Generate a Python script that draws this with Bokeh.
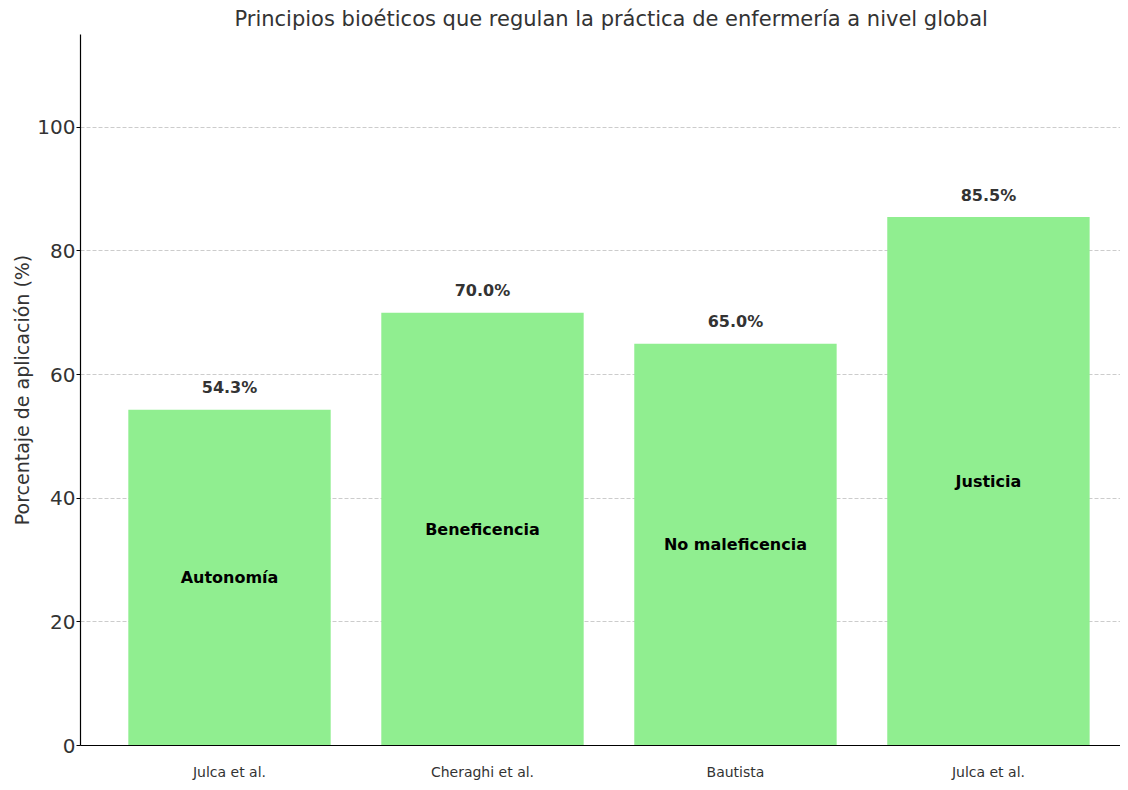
from bokeh.plotting import figure
from bokeh.models import FixedTicker, Range1d, ColumnDataSource
from bokeh.core.properties import value
from bokeh.embed import file_html
from bokeh.resources import INLINE

authors = ["Julca et al.", "Cheraghi et al.", "Bautista", "Julca et al."]
principles = ["Autonomía", "Beneficencia", "No maleficencia", "Justicia"]
percentages = [54.3, 70.0, 65.0, 85.5]
y_ticks = [0, 20, 40, 60, 80, 100]

xs = list(range(len(authors)))
src = ColumnDataSource(dict(
    x=xs,
    top=percentages,
    mid=[v / 2 for v in percentages],
    lab_y=[v + 2 for v in percentages],
    val=[f"{v:.1f}%" for v in percentages],
    name=principles,
))

FONT = "DejaVu Sans"

p = figure(width=1120, height=782, output_backend="svg", toolbar_location=None,
           x_range=Range1d(-0.589, 3.522), y_range=Range1d(0, 115),
           title="Principios bioéticos que regulan la práctica de enfermería a nivel global",
           min_border_left=80, min_border_right=0, min_border_top=0, min_border_bottom=0)

p.title.align = "left"
p.title.offset = 154
p.title.text_font = FONT
p.title.text_font_size = "21px"
p.title.text_font_style = "normal"
p.title.text_color = "#333333"
p.title.standoff = 8

p.outline_line_color = None
p.background_fill_color = "white"

p.vbar(x="x", top="top", width=0.8, source=src, fill_color="#90EE90", line_color=None)

p.text(x="x", y="lab_y", text="val", source=src, text_align="center", text_baseline="bottom",
       text_font=value(FONT), text_font_size="16px", text_font_style="bold", text_color="#333333")
p.text(x="x", y="mid", text="name", source=src, text_align="center", text_baseline="middle",
       text_font=value(FONT), text_font_size="16px", text_font_style="bold", text_color="black")

# y axis
p.yaxis.ticker = FixedTicker(ticks=y_ticks)
p.yaxis.axis_label = "Porcentaje de aplicación (%)"
p.yaxis.axis_label_text_font = FONT
p.yaxis.axis_label_text_font_size = "19px"
p.yaxis.axis_label_text_font_style = "normal"
p.yaxis.axis_label_text_color = "#333333"
p.yaxis.axis_label_standoff = 1
p.yaxis.major_label_text_font = FONT
p.yaxis.major_label_text_font_size = "20px"
p.yaxis.major_label_text_color = "#333333"
p.yaxis.major_label_standoff = 1
p.yaxis.axis_line_color = "black"
p.yaxis.axis_line_width = 1.2
p.yaxis.major_tick_line_color = "black"
p.yaxis.major_tick_out = 4
p.yaxis.major_tick_in = 0
p.yaxis.minor_tick_line_color = None

# x axis
p.xaxis.ticker = FixedTicker(ticks=xs)
p.xaxis.major_label_overrides = {i: a for i, a in zip(xs, authors)}
p.xaxis.major_label_text_font = FONT
p.xaxis.major_label_text_font_size = "14px"
p.xaxis.major_label_text_color = "#333333"
p.xaxis.major_label_standoff = 12
p.xaxis.axis_line_color = "black"
p.xaxis.axis_line_width = 1.2
p.xaxis.major_tick_line_color = None
p.xaxis.minor_tick_line_color = None

p.xgrid.grid_line_color = None
p.ygrid.ticker = FixedTicker(ticks=y_ticks)
p.ygrid.grid_line_color = "#cccccc"
p.ygrid.grid_line_dash = "4 2"
p.ygrid.grid_line_width = 1

open("out.html", "w").write(file_html(p, INLINE))
